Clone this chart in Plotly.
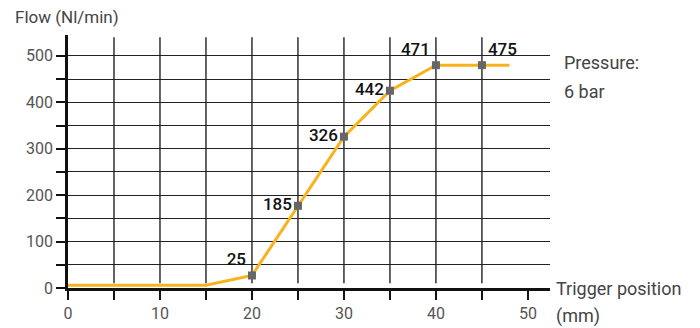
import plotly.graph_objects as go

# Data
trigger_mm = [0, 15, 20, 25, 30, 35, 40, 45, 48]
flow = [6, 6, 27, 177, 326, 425, 480, 480, 480]
marker_x = [20, 25, 30, 35, 40, 45]
marker_flow = [27, 177, 326, 425, 480, 480]
marker_labels = ["25", "185", "326", "442", "471", "475"]
label_pos = ["top left", "middle left", "middle left", "middle left", "top left", "top right"]
x_ticks = [0, 10, 20, 30, 40, 50]
y_ticks = [0, 100, 200, 300, 400, 500]
x_grid = [5, 10, 15, 20, 25, 30, 35, 40, 45]

FONT = "Roboto, Liberation Sans, sans-serif"
X_MAX = 52.4
Y_MAX = 545

fig = go.Figure()

fig.add_trace(go.Scatter(
    x=trigger_mm, y=flow, mode="lines",
    line=dict(color="#F8B31C", width=3), hoverinfo="skip", showlegend=False))

fig.add_trace(go.Scatter(
    x=marker_x, y=marker_flow, mode="markers+text",
    marker=dict(symbol="square", size=8, color="#666666"),
    text=marker_labels, textposition=label_pos,
    textfont=dict(family=FONT, size=17, color="#111111", weight=500),
    showlegend=False, cliponaxis=False))

shapes = []
for gx in x_grid:
    shapes.append(dict(type="line", xref="x", yref="y", x0=gx, x1=gx, y0=10, y1=Y_MAX - 5,
                       line=dict(color="#111111", width=1.3), layer="below"))

def side_text(text, y, xshift):
    return dict(text=text, xref="paper", yref="paper", x=1.0, xshift=xshift, y=y,
                xanchor="left", yanchor="middle", align="left", showarrow=False,
                font=dict(family=FONT, size=18, color="#444444"))

# page body has an 8px default margin, so the figure is sized to fit inside 700x328
fig.update_layout(
    width=692, height=320,
    margin=dict(l=60, r=150, t=27, b=40),
    paper_bgcolor="white", plot_bgcolor="white",
    font=dict(family=FONT, color="#444444", size=16),
    shapes=shapes,
    xaxis=dict(range=[0, X_MAX], tickvals=x_ticks, ticks="outside", ticklen=9,
               tickwidth=1.5, tickcolor="#111111", automargin=False,
               showgrid=False, zeroline=False, showline=True, linecolor="#111111", linewidth=2.5,
               tickfont=dict(family=FONT, size=16, color="#555555"),
               minor=dict(dtick=5, tick0=0, ticks="outside", ticklen=9, tickwidth=1.5,
                          tickcolor="#111111", showgrid=False)),
    yaxis=dict(range=[0, Y_MAX], tickvals=y_ticks, ticks="outside", ticklen=9,
               tickwidth=1.5, tickcolor="#111111", automargin=False,
               showgrid=True, gridcolor="#222222", gridwidth=1.3,
               zeroline=False, showline=True, linecolor="#111111", linewidth=2.5,
               tickfont=dict(family=FONT, size=16, color="#555555"),
               minor=dict(dtick=50, tick0=0, ticks="outside", ticklen=9, tickwidth=1.5,
                          tickcolor="#111111", showgrid=True, gridcolor="#222222", gridwidth=1.3)),
    annotations=[
        dict(text="Flow (Nl/min)", xref="paper", yref="paper", x=0, xshift=-55, y=1.0, yshift=18,
             xanchor="left", yanchor="middle", showarrow=False,
             font=dict(family=FONT, size=17, color="#444444")),
        side_text("Pressure:", 0.893, 12),
        side_text("6 bar", 0.775, 12),
        side_text("Trigger position", 0.0, 4),
        side_text("(mm)", -0.111, 4),
    ],
)

fig.write_html("out.html")
